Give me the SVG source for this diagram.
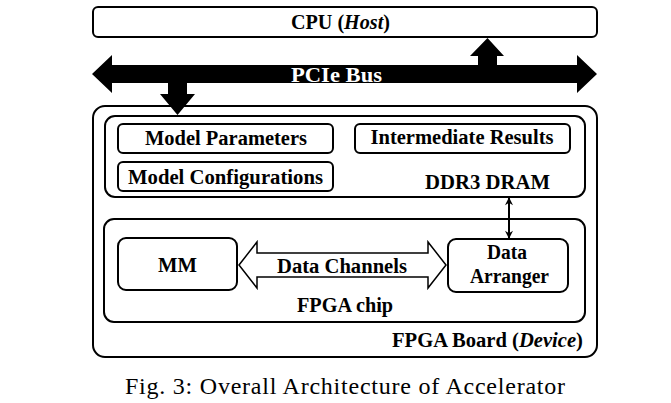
<svg xmlns="http://www.w3.org/2000/svg" width="671" height="403" viewBox="0 0 671 403">
<style>
.box{fill:none;stroke:#000;stroke-width:2}
.wbox{fill:#fff;stroke:#000;stroke-width:2}
.lbl{font-family:"Times New Roman","Liberation Serif",Times,serif;font-weight:bold;font-size:20px;fill:#000;text-anchor:middle}
.bus{font-family:"Times New Roman","Liberation Serif",Times,serif;font-weight:bold;font-size:20px;fill:#fff;text-anchor:middle}
.cap{font-family:"Times New Roman","Liberation Serif",Times,serif;font-size:24px;fill:#000;text-anchor:middle}
</style>
<defs>
<marker id="ah" viewBox="0 0 10 10" refX="9" refY="5" markerWidth="9" markerHeight="8" orient="auto-start-reverse" markerUnits="userSpaceOnUse">
<path d="M0,0 L10,5 L0,10 L3,5 Z" fill="#000"/>
</marker>
</defs>
<rect width="671" height="403" fill="#fff"/>
<g id="cpu">
<rect class="wbox" x="93" y="7" width="504" height="30" rx="5"/>
<text class="lbl" x="340.5" y="29" textLength="99" lengthAdjust="spacingAndGlyphs">CPU (<tspan font-style="italic">Host</tspan>)</text>
</g>
<g id="fpga-board">
<rect class="box" x="93" y="106" width="504" height="251" rx="12"/>
<text class="lbl" x="487.5" y="347" textLength="191" lengthAdjust="spacingAndGlyphs">FPGA Board (<tspan font-style="italic">Device</tspan>)</text>
</g>
<g id="ddr3-dram">
<rect class="box" x="105" y="116" width="480" height="81" rx="10"/>
<text class="lbl" x="487.5" y="189" textLength="125" lengthAdjust="spacingAndGlyphs">DDR3 DRAM</text>
</g>
<g id="model-parameters">
<rect class="box" x="118" y="124" width="215" height="29" rx="5"/>
<text class="lbl" x="226" y="145" textLength="162" lengthAdjust="spacingAndGlyphs">Model Parameters</text>
</g>
<g id="model-configurations">
<rect class="box" x="118" y="162" width="215" height="29" rx="5"/>
<text class="lbl" x="225.5" y="184" textLength="195" lengthAdjust="spacingAndGlyphs">Model Configurations</text>
</g>
<g id="intermediate-results">
<rect class="box" x="355" y="124" width="215" height="29" rx="5"/>
<text class="lbl" x="462" y="144" textLength="183" lengthAdjust="spacingAndGlyphs">Intermediate Results</text>
</g>
<g id="fpga-chip">
<rect class="box" x="104" y="219" width="481" height="103" rx="10"/>
<text class="lbl" x="345" y="312" textLength="96" lengthAdjust="spacingAndGlyphs">FPGA chip</text>
</g>
<g id="mm">
<rect class="box" x="118" y="238" width="119" height="52" rx="8"/>
<text class="lbl" x="177.5" y="272" textLength="39" lengthAdjust="spacingAndGlyphs">MM</text>
</g>
<g id="data-arranger">
<rect class="box" x="448" y="239" width="120" height="53" rx="8"/>
<text class="lbl" x="507" y="259" textLength="40" lengthAdjust="spacingAndGlyphs">Data</text>
<text class="lbl" x="509.5" y="283" textLength="79" lengthAdjust="spacingAndGlyphs">Arranger</text>
</g>
<g id="connectors">
<path id="pcie-bus" fill="#000" d="M92,74 L112,55 L112,65 L478,65 L478,56 L470,56 L487.5,38 L504,56 L497,56 L497,65 L577,65 L577,55 L597,74 L577,93 L577,83 L187,83 L187,94 L195,94 L177.5,115 L160,94 L168,94 L168,83 L112,83 L112,93 Z"/>
<text class="bus" x="336.5" y="82" textLength="91" lengthAdjust="spacingAndGlyphs">PCIe Bus</text>
<path id="data-channels" fill="#fff" stroke="#000" stroke-width="1.5" stroke-linejoin="miter" d="M239,265 L257,242 L257,253 L428,253 L428,242 L446,265 L428,288 L428,277 L257,277 L257,288 Z"/>
<text class="lbl" x="342" y="273" textLength="130" lengthAdjust="spacingAndGlyphs">Data Channels</text>
<line id="ddr-arranger" x1="509" y1="198" x2="509" y2="238" stroke="#000" stroke-width="2" marker-start="url(#ah)" marker-end="url(#ah)"/>
</g>
<text class="cap" x="345" y="394" textLength="440" lengthAdjust="spacing">Fig. 3: Overall Architecture of Accelerator</text>
</svg>
